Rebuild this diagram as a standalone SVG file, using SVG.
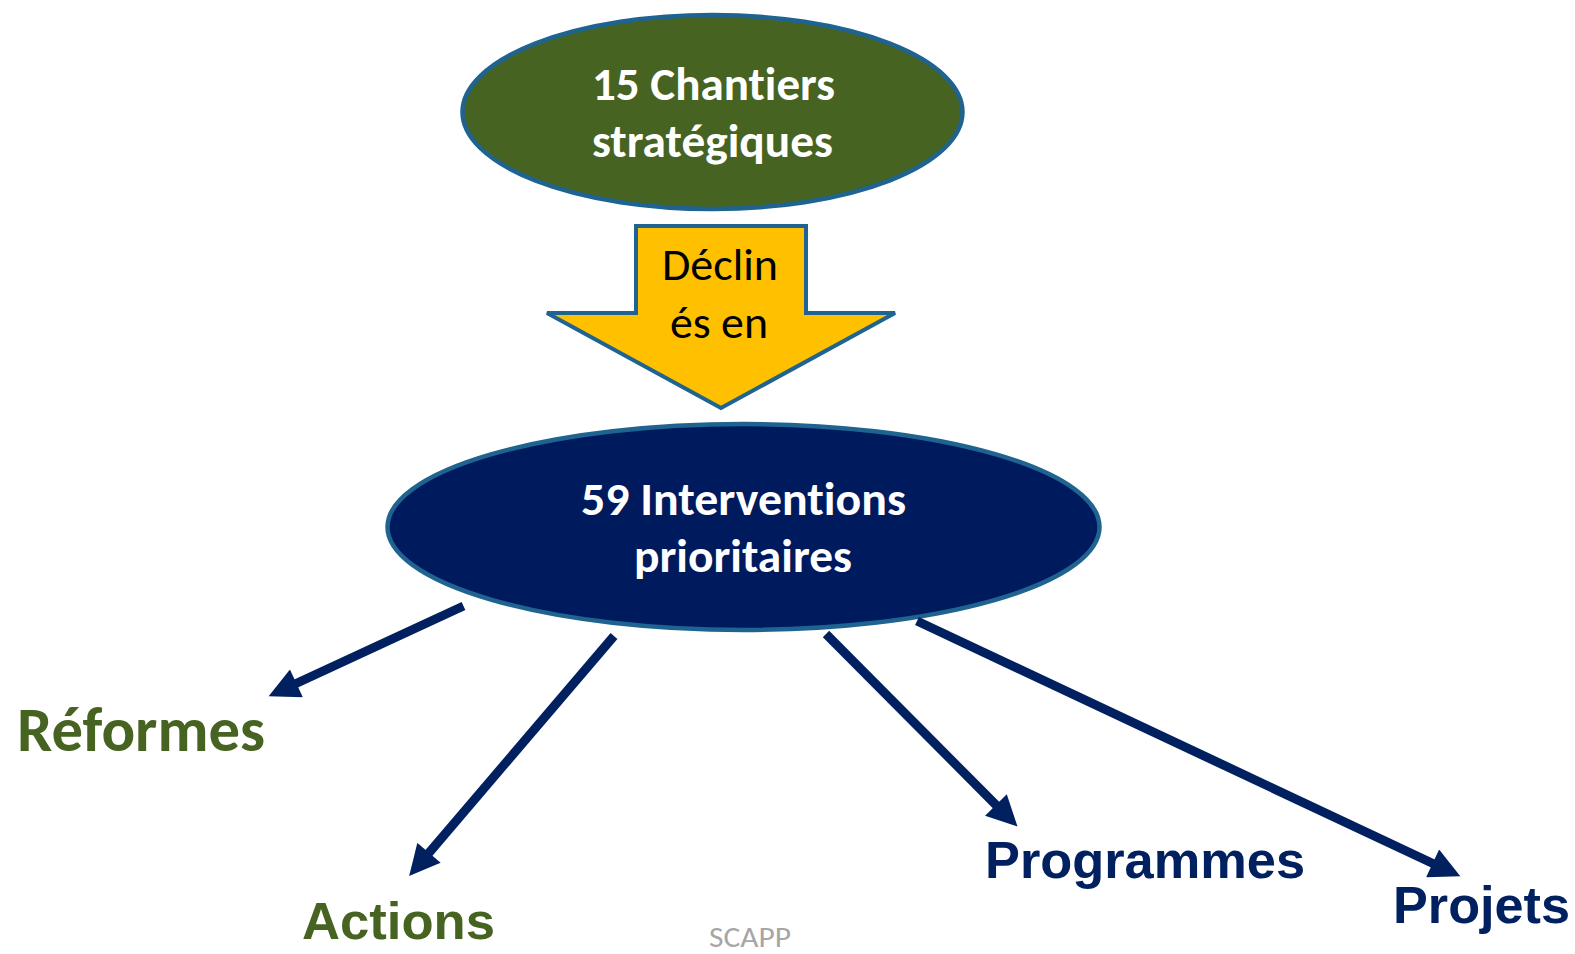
<svg xmlns="http://www.w3.org/2000/svg" width="1575" height="954" viewBox="0 0 1575 954">
<style>
.cal{font-family:Carlito,"Open Sans","Liberation Sans",sans-serif;font-variant-ligatures:none;font-feature-settings:"liga" 0,"clig" 0}
.arl{font-family:"Liberation Sans",Arial,sans-serif;font-weight:bold;font-size:52px}
.wt{fill:#ffffff;font-weight:bold;font-size:47px}
.green{fill:#466321}
.navy{fill:#002060}
.conn{stroke:#002060;stroke-width:9;fill:none;stroke-linecap:butt}
.node-stroke{stroke:#1f6391;stroke-width:4.5}
</style>
<defs>
<marker id="ah" viewBox="0 0 10 10" refX="0.5" refY="5" markerWidth="3.5" markerHeight="3.4" orient="auto" markerUnits="strokeWidth">
<path d="M0,0 L10,5 L0,10 z" fill="#002060"/>
</marker>
</defs>
<rect width="1575" height="954" fill="#ffffff"/>

<g id="chantiers">
<ellipse cx="712.5" cy="112" rx="250" ry="97" fill="#466321" class="node-stroke"/>
<text class="cal wt" x="713.5" y="100" text-anchor="middle" textLength="243" lengthAdjust="spacingAndGlyphs">15 Chantiers</text>
<text class="cal wt" x="712.5" y="157" text-anchor="middle" textLength="241" lengthAdjust="spacingAndGlyphs">stratégiques</text>
</g>

<g id="decline-arrow">
<polygon points="636,226 806,226 806,313 895,313 721,408 547,313 636,313" fill="#ffc000" stroke="#1f6391" stroke-width="4" stroke-linejoin="miter"/>
<text class="cal" x="720" y="280" text-anchor="middle" font-size="46" fill="#000000" textLength="116" lengthAdjust="spacingAndGlyphs">Déclin</text>
<text class="cal" x="719" y="338" text-anchor="middle" font-size="46" fill="#000000" textLength="98" lengthAdjust="spacingAndGlyphs">és en</text>
</g>

<g id="interventions">
<ellipse cx="743.5" cy="527" rx="356" ry="103" fill="#001a5e" class="node-stroke"/>
<text class="cal wt" x="743.5" y="515" text-anchor="middle" textLength="325" lengthAdjust="spacingAndGlyphs">59 Interventions</text>
<text class="cal wt" x="743" y="572" text-anchor="middle" textLength="218" lengthAdjust="spacingAndGlyphs">prioritaires</text>
</g>

<g id="connectors">
<line class="conn" x1="463.5" y1="606" x2="295" y2="684" marker-end="url(#ah)"/>
<line class="conn" x1="614" y1="636" x2="428" y2="854" marker-end="url(#ah)"/>
<line class="conn" x1="826" y1="634" x2="997" y2="806" marker-end="url(#ah)"/>
<line class="conn" x1="917" y1="621" x2="1434" y2="864" marker-end="url(#ah)"/>
</g>

<g id="reformes">
<text class="cal green" x="17" y="751" font-size="62" font-weight="bold" textLength="248" lengthAdjust="spacingAndGlyphs">Réformes</text>
</g>
<g id="actions">
<text class="arl green" x="302" y="939" textLength="193" lengthAdjust="spacingAndGlyphs">Actions</text>
</g>
<g id="programmes">
<text class="arl navy" x="985" y="878" textLength="320" lengthAdjust="spacingAndGlyphs">Programmes</text>
</g>
<g id="projets">
<text class="arl navy" x="1393" y="923" textLength="177" lengthAdjust="spacingAndGlyphs">Projets</text>
</g>
<g id="source">
<text class="cal" x="750" y="947" text-anchor="middle" font-size="28" fill="#a6a6a6" textLength="82" lengthAdjust="spacingAndGlyphs">SCAPP</text>
</g>
</svg>
